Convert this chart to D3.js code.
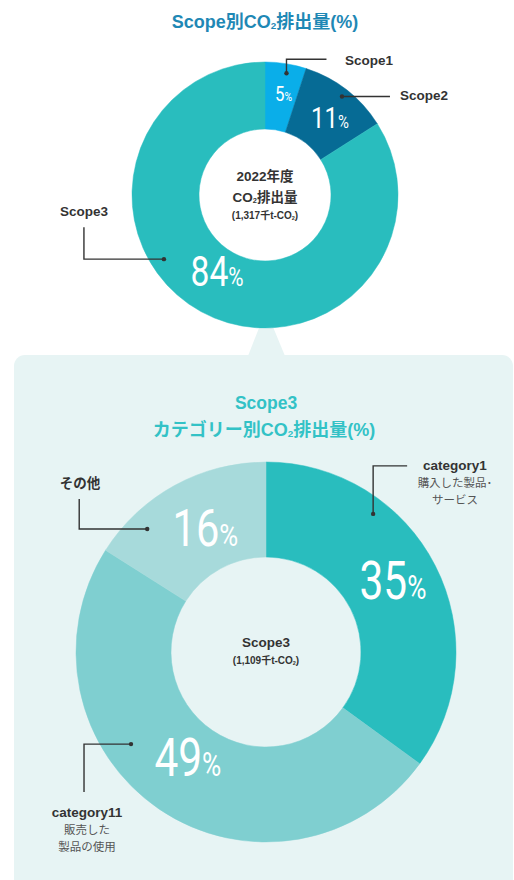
<!DOCTYPE html>
<html>
<head>
<meta charset="utf-8">
<script src="https://cdn.jsdelivr.net/npm/d3@7"></script>
<style>
  body { margin: 0; background: #fff; }
  svg { display: block; font-family: "Liberation Sans", "Noto Sans CJK JP", sans-serif; }
</style>
</head>
<body>
<svg id="chart" width="514" height="880"></svg>
<script>
// scope breakdown (top donut)
const scopeNames = ['Scope1', 'Scope2', 'Scope3'];
const scopeValues = [5, 11, 84];
const scopeColors = ['#0aaee9', '#066b95', '#29bdbe'];

// scope3 category breakdown (bottom donut)
const catNames = ['category1', 'category11', 'その他'];
const catSubs = [['購入した製品･', 'サービス'], ['販売した', '製品の使用'], []];
const catValues = [35, 49, 16];
const catColors = ['#29bdbe', '#7fcfd0', '#a7dadb'];

// leader lines: dot angle (deg) / radius (fraction of outer), path offsets from dot, label spot
const scopeLeaders = [
    {deg: 10, r: 0.93, path: [[0, -14], [40, -14]], lx: 345, ly: 65, anchor: 'start'},
    {deg: 38, r: 0.94, path: [[48, 0]], lx: 400, ly: 100, anchor: 'start'},
    {deg: 237.6, r: 0.9, path: [[-80, 0], [-80, -32]], lx: 84, ly: 216, anchor: 'middle'}
];
const catLeaders = [
    {deg: 37.8, r: 0.92, path: [[0, -48], [34, -48]], lx: 455, ly: 470, anchor: 'middle'},
    {deg: 235.7, r: 0.86, path: [[-47, 0], [-47, 48]], lx: 87, ly: 817, anchor: 'middle'},
    {deg: 316, r: 0.9, path: [[-68, 0], [-68, -30]], lx: 80, ly: 488, anchor: 'middle'}
];

const svg = d3.select('#chart');

// panel behind the lower chart, with a pointer up to the top donut
svg.append('path')
    .attr('d', 'M248,356 L266,310 L285,356 Z')
    .attr('fill', '#e7f4f4');
svg.append('rect')
    .attr('x', 14).attr('y', 355)
    .attr('width', 499).attr('height', 560)
    .attr('rx', 11)
    .attr('fill', '#e7f4f4');

// helper for text with "CO2" subscript
function addCO2Line(g, parts, x, y, size, color, weight) {
    const t = g.append('text')
        .attr('x', x).attr('y', y)
        .attr('text-anchor', 'middle')
        .attr('fill', color)
        .attr('font-size', size)
        .attr('font-weight', weight);
    parts.forEach(p => {
        const s = t.append('tspan').text(p.t);
        if (p.sub) s.attr('font-size', size * 0.55).attr('dy', 1);
        if (p.after) s.attr('dy', -1);
    });
    return t;
}

addCO2Line(svg, [{t: 'Scope別CO'}, {t: '2', sub: true}, {t: '排出量(%)', after: true}],
    265, 28, 18, '#1f88b5', 700);
svg.append('text')
    .attr('x', 266).attr('y', 409)
    .attr('text-anchor', 'middle')
    .attr('fill', '#33c2c6').attr('font-size', 17.5).attr('font-weight', 700)
    .text('Scope3');
addCO2Line(svg, [{t: 'カテゴリー別CO'}, {t: '2', sub: true}, {t: '排出量(%)', after: true}],
    264, 436, 18, '#33c2c6', 700);

function drawDonut(opts) {
    const {cx, cy, outer, inner, values, colors, names, leaders, subs, sizes} = opts;
    const g = svg.append('g').attr('transform', `translate(${cx},${cy})`);
    const pie = d3.pie().sort(null).value(d => d);
    const arcs = pie(values);
    const arc = d3.arc().innerRadius(inner).outerRadius(outer);

    g.selectAll('path.slice')
        .data(arcs)
        .enter().append('path')
        .attr('class', 'slice')
        .attr('d', arc)
        .attr('fill', (d, i) => colors[i])
        .attr('stroke', (d, i) => colors[i])
        .attr('stroke-width', 0.5);

    // percent labels
    const lab = g.selectAll('text.pct')
        .data(arcs)
        .enter().append('text')
        .attr('class', 'pct')
        .attr('transform', (d, i) => {
            const c = arc.centroid(d);
            return `translate(${c[0] + sizes[i].dx},${c[1] + sizes[i].dy}) scale(0.8,1)`;
        })
        .attr('text-anchor', 'middle')
        .attr('fill', '#fff')
        .attr('font-family', 'Roboto, sans-serif')
        .attr('font-weight', 400);
    lab.append('tspan').text(d => d.data).attr('font-size', (d, i) => sizes[i].fs);
    lab.append('tspan').text('%').attr('font-size', (d, i) => sizes[i].fs * 0.62);

    // leader lines and names
    leaders.forEach((l, i) => {
        const a = l.deg * Math.PI / 180;
        const x0 = Math.sin(a) * outer * l.r;
        const y0 = -Math.cos(a) * outer * l.r;
        const pts = [[x0, y0]].concat(l.path.map(p => [x0 + p[0], y0 + p[1]]));
        g.append('path')
            .attr('d', d3.line()(pts))
            .attr('fill', 'none')
            .attr('stroke', '#333')
            .attr('stroke-width', 1.4);
        g.append('circle')
            .attr('cx', x0).attr('cy', y0).attr('r', 2.2)
            .attr('fill', '#333');
        svg.append('text')
            .attr('x', l.lx).attr('y', l.ly)
            .attr('text-anchor', l.anchor)
            .attr('fill', '#333')
            .attr('font-size', 13.5)
            .attr('font-weight', 700)
            .text(names[i]);
        (subs[i] || []).forEach((s, j) => {
            svg.append('text')
                .attr('x', l.lx).attr('y', l.ly + 17 + j * 17)
                .attr('text-anchor', 'middle')
                .attr('fill', '#555')
                .attr('font-size', 11.5)
                .text(s);
        });
    });
    return g;
}

const topDonut = drawDonut({
    cx: 265, cy: 195, outer: 133, inner: 66,
    values: scopeValues, colors: scopeColors, names: scopeNames,
    leaders: scopeLeaders, subs: [],
    sizes: [{fs: 21, dx: 3, dy: 4}, {fs: 30, dx: 4, dy: 12}, {fs: 42, dx: 0, dy: 4}]
});
topDonut.append('text').attr('x', 0).attr('y', -14)
    .attr('text-anchor', 'middle').attr('fill', '#333')
    .attr('font-size', 13.5).attr('font-weight', 700)
    .text('2022年度');
addCO2Line(topDonut, [{t: 'CO'}, {t: '2', sub: true}, {t: '排出量', after: true}],
    0, 7, 13.5, '#333', 700);
addCO2Line(topDonut, [{t: '(1,317千t-CO'}, {t: '2', sub: true}, {t: ')', after: true}],
    0, 24, 10, '#333', 700);

const bottomDonut = drawDonut({
    cx: 266, cy: 652, outer: 190, inner: 95,
    values: catValues, colors: catColors, names: catNames,
    leaders: catLeaders, subs: catSubs,
    sizes: [{fs: 53, dx: 0, dy: 12}, {fs: 53, dx: 2, dy: 6}, {fs: 52, dx: 8, dy: 19}]
});
bottomDonut.append('text').attr('x', 0).attr('y', -5)
    .attr('text-anchor', 'middle').attr('fill', '#333')
    .attr('font-size', 13.5).attr('font-weight', 700)
    .text('Scope3');
addCO2Line(bottomDonut, [{t: '(1,109千t-CO'}, {t: '2', sub: true}, {t: ')', after: true}],
    0, 12, 10, '#333', 700);
</script>
</body>
</html>
